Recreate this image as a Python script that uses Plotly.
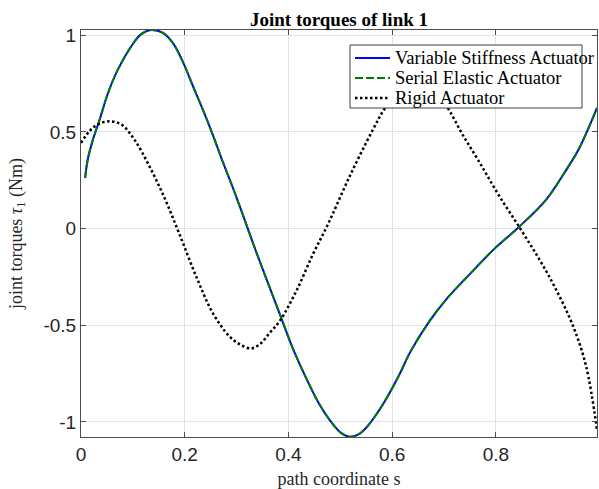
import plotly.graph_objects as go

# Variable Stiffness Actuator / Serial Elastic Actuator (identical curves)
s_vsa = [0.008, 0.013, 0.023, 0.036, 0.052, 0.071, 0.097, 0.115, 0.135, 0.158, 0.177, 0.196,
         0.216, 0.235, 0.254, 0.273, 0.293, 0.312, 0.328, 0.344, 0.383, 0.408, 0.434, 0.46,
         0.486, 0.502, 0.518, 0.534, 0.55, 0.582, 0.614, 0.634, 0.672, 0.704, 0.752, 0.797,
         0.846, 0.897, 0.936, 0.961, 0.995]
tau_vsa = [0.262, 0.357, 0.46, 0.564, 0.70, 0.822, 0.943, 1.003, 1.027, 1.012, 0.96, 0.865,
           0.736, 0.615, 0.486, 0.348, 0.21, 0.072, -0.048, -0.165, -0.44, -0.617, -0.772, -0.91,
           -1.013, -1.058, -1.077, -1.066, -1.03, -0.91, -0.755, -0.643, -0.479, -0.367, -0.229,
           -0.105, 0.012, 0.15, 0.305, 0.417, 0.624]
tau_sea = list(tau_vsa)

# Rigid Actuator
s_rig = [0.0, 0.016, 0.032, 0.055, 0.078, 0.103, 0.132, 0.161, 0.19, 0.222, 0.254, 0.286,
         0.307, 0.328, 0.346, 0.364, 0.383, 0.415, 0.447, 0.476, 0.518, 0.563, 0.587, 0.62,
         0.648, 0.675, 0.705, 0.736, 0.769, 0.805, 0.846, 0.884, 0.916, 0.949, 0.974, 0.995]
tau_rig = [0.443, 0.503, 0.538, 0.555, 0.538, 0.46, 0.322, 0.159, -0.03, -0.247, -0.436, -0.557,
           -0.60, -0.62, -0.595, -0.539, -0.479, -0.324, -0.134, 0.021, 0.27, 0.512, 0.625, 0.722,
           0.75, 0.724, 0.632, 0.485, 0.34, 0.175, 0.004, -0.16, -0.315, -0.505, -0.712, -1.04]

series_names = ["Variable Stiffness Actuator", "Serial Elastic Actuator", "Rigid Actuator"]
series_colors = ["#0000FF", "#007A00", "#000000"]
series_dash = ["solid", "8px,3px", "2.5px,2.5px"]
series_width = [2, 2, 2.5]

x_ticks = [0, 0.2, 0.4, 0.6, 0.8]
x_labels = ["0", "0.2", "0.4", "0.6", "0.8"]
y_ticks = [-1, -0.5, 0, 0.5, 1]
y_labels = ["-1", "-0.5", "0", "0.5", "1"]

serif = "Liberation Serif, Times New Roman, serif"
sans = "Liberation Sans, Arial, sans-serif"

W, H = 599, 489
ML, MR, MT, MB = 81, 2, 30, 52
PW, PH = W - ML - MR, H - MT - MB


def px_x(px):
    return (px - ML) / PW


def px_y(py):
    return (H - MB - py) / PH


fig = go.Figure()
data = [(s_vsa, tau_vsa), (s_vsa, tau_sea), (s_rig, tau_rig)]
for (xs, ys), name, col, dash, w in zip(data, series_names, series_colors, series_dash, series_width):
    fig.add_trace(go.Scatter(x=xs, y=ys, mode="lines", name=name, showlegend=False,
                             line=dict(color=col, width=w, dash=dash, shape="spline", smoothing=1.0)))

# legend box (drawn manually to match the compact MATLAB legend)
shapes = [dict(type="rect", xref="paper", yref="paper", layer="above",
               x0=px_x(350), x1=px_x(582), y0=px_y(108), y1=px_y(45),
               fillcolor="white", line=dict(color="#404040", width=1))]
annotations = []
rows = [58, 78, 98]
for name, col, dash, w, ry in zip(series_names, series_colors, series_dash, series_width, rows):
    shapes.append(dict(type="line", xref="paper", yref="paper", layer="above",
                       x0=px_x(355), x1=px_x(390), y0=px_y(ry), y1=px_y(ry),
                       line=dict(color=col, width=w, dash=dash)))
    annotations.append(dict(text=name, xref="paper", yref="paper", x=px_x(393), y=px_y(ry),
                            xanchor="left", yanchor="middle", showarrow=False,
                            font=dict(family=serif, size=18.5, color="black")))

axis_common = dict(showgrid=True, gridcolor="#e3e3e3", gridwidth=1, zeroline=False,
                   showline=True, linecolor="#4d4d4d", linewidth=1, mirror="ticks",
                   ticks="inside", ticklen=5, tickcolor="#4d4d4d",
                   tickfont=dict(family=sans, size=19, color="#262626"))

fig.update_layout(
    width=W, height=H,
    margin=dict(l=ML, r=MR, t=MT, b=MB),
    paper_bgcolor="white", plot_bgcolor="white",
    title=dict(text="<b>Joint torques of link 1</b>", font=dict(family=serif, size=19, color="black"),
               x=0.5, xref="paper", y=1 - 19 / H, yref="container", yanchor="middle"),
    xaxis=dict(range=[0, 0.995], tickvals=x_ticks, ticktext=x_labels,
               title=dict(text="path coordinate s", font=dict(family=serif, size=18, color="#262626"),
                          standoff=8),
               **axis_common),
    yaxis=dict(range=[-1.078, 1.027], tickvals=y_ticks, ticktext=y_labels,
               title=dict(text="joint torques <i>τ</i><sub>1</sub> (Nm)",
                          font=dict(family=serif, size=18, color="#262626"), standoff=16),
               **axis_common),
    shapes=shapes,
    annotations=annotations,
    showlegend=False,
)

fig.write_html("out.html", post_script="document.body.style.margin='0px';",
               config={"displayModeBar": False})
